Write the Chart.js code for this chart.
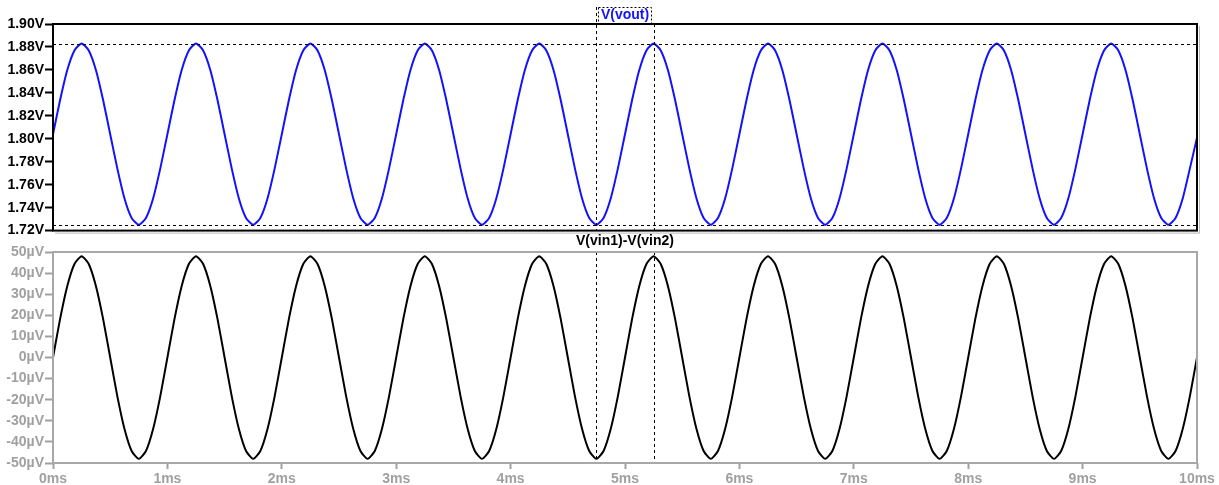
<!DOCTYPE html>
<html>
<head>
<meta charset="utf-8">
<script src="https://cdn.jsdelivr.net/npm/chart.js@4"></script>
<style>
  html, body { margin: 0; padding: 0; background: #fff; }
  #wrap { position: relative; width: 1219px; height: 485px; overflow: hidden; }
  canvas { position: absolute; left: 0; }
  #cTop { top: 0; }
  #cBot { top: 232px; }
</style>
</head>
<body>
<div id="wrap">
  <canvas id="cTop" width="1219" height="240"></canvas>
  <canvas id="cBot" width="1219" height="253"></canvas>
</div>
<script>
  // time axis, ms
  var timeMs = [
    0, 0.0625, 0.125, 0.1875, 0.25, 0.3125, 0.375, 0.4375, 0.5, 0.5625, 0.625, 0.6875, 0.75, 0.8125, 0.875, 0.9375,
    1, 1.0625, 1.125, 1.1875, 1.25, 1.3125, 1.375, 1.4375, 1.5, 1.5625, 1.625, 1.6875, 1.75, 1.8125, 1.875, 1.9375,
    2, 2.0625, 2.125, 2.1875, 2.25, 2.3125, 2.375, 2.4375, 2.5, 2.5625, 2.625, 2.6875, 2.75, 2.8125, 2.875, 2.9375,
    3, 3.0625, 3.125, 3.1875, 3.25, 3.3125, 3.375, 3.4375, 3.5, 3.5625, 3.625, 3.6875, 3.75, 3.8125, 3.875, 3.9375,
    4, 4.0625, 4.125, 4.1875, 4.25, 4.3125, 4.375, 4.4375, 4.5, 4.5625, 4.625, 4.6875, 4.75, 4.8125, 4.875, 4.9375,
    5, 5.0625, 5.125, 5.1875, 5.25, 5.3125, 5.375, 5.4375, 5.5, 5.5625, 5.625, 5.6875, 5.75, 5.8125, 5.875, 5.9375,
    6, 6.0625, 6.125, 6.1875, 6.25, 6.3125, 6.375, 6.4375, 6.5, 6.5625, 6.625, 6.6875, 6.75, 6.8125, 6.875, 6.9375,
    7, 7.0625, 7.125, 7.1875, 7.25, 7.3125, 7.375, 7.4375, 7.5, 7.5625, 7.625, 7.6875, 7.75, 7.8125, 7.875, 7.9375,
    8, 8.0625, 8.125, 8.1875, 8.25, 8.3125, 8.375, 8.4375, 8.5, 8.5625, 8.625, 8.6875, 8.75, 8.8125, 8.875, 8.9375,
    9, 9.0625, 9.125, 9.1875, 9.25, 9.3125, 9.375, 9.4375, 9.5, 9.5625, 9.625, 9.6875, 9.75, 9.8125, 9.875, 9.9375,
    10
  ];

  // V(vout), volts
  var voutV = [
    1.804, 1.834, 1.860, 1.877, 1.883, 1.877, 1.860, 1.834, 1.804, 1.774, 1.748, 1.731, 1.725, 1.731, 1.748, 1.774,
    1.804, 1.834, 1.860, 1.877, 1.883, 1.877, 1.860, 1.834, 1.804, 1.774, 1.748, 1.731, 1.725, 1.731, 1.748, 1.774,
    1.804, 1.834, 1.860, 1.877, 1.883, 1.877, 1.860, 1.834, 1.804, 1.774, 1.748, 1.731, 1.725, 1.731, 1.748, 1.774,
    1.804, 1.834, 1.860, 1.877, 1.883, 1.877, 1.860, 1.834, 1.804, 1.774, 1.748, 1.731, 1.725, 1.731, 1.748, 1.774,
    1.804, 1.834, 1.860, 1.877, 1.883, 1.877, 1.860, 1.834, 1.804, 1.774, 1.748, 1.731, 1.725, 1.731, 1.748, 1.774,
    1.804, 1.834, 1.860, 1.877, 1.883, 1.877, 1.860, 1.834, 1.804, 1.774, 1.748, 1.731, 1.725, 1.731, 1.748, 1.774,
    1.804, 1.834, 1.860, 1.877, 1.883, 1.877, 1.860, 1.834, 1.804, 1.774, 1.748, 1.731, 1.725, 1.731, 1.748, 1.774,
    1.804, 1.834, 1.860, 1.877, 1.883, 1.877, 1.860, 1.834, 1.804, 1.774, 1.748, 1.731, 1.725, 1.731, 1.748, 1.774,
    1.804, 1.834, 1.860, 1.877, 1.883, 1.877, 1.860, 1.834, 1.804, 1.774, 1.748, 1.731, 1.725, 1.731, 1.748, 1.774,
    1.804, 1.834, 1.860, 1.877, 1.883, 1.877, 1.860, 1.834, 1.804, 1.774, 1.748, 1.731, 1.725, 1.731, 1.748, 1.774,
    1.801
  ];

  // V(vin1)-V(vin2), microvolts
  var vdiffUv = [
    0, 18.4, 33.9, 44.3, 48, 44.3, 33.9, 18.4, 0, -18.4, -33.9, -44.3, -48, -44.3, -33.9, -18.4,
    0, 18.4, 33.9, 44.3, 48, 44.3, 33.9, 18.4, 0, -18.4, -33.9, -44.3, -48, -44.3, -33.9, -18.4,
    0, 18.4, 33.9, 44.3, 48, 44.3, 33.9, 18.4, 0, -18.4, -33.9, -44.3, -48, -44.3, -33.9, -18.4,
    0, 18.4, 33.9, 44.3, 48, 44.3, 33.9, 18.4, 0, -18.4, -33.9, -44.3, -48, -44.3, -33.9, -18.4,
    0, 18.4, 33.9, 44.3, 48, 44.3, 33.9, 18.4, 0, -18.4, -33.9, -44.3, -48, -44.3, -33.9, -18.4,
    0, 18.4, 33.9, 44.3, 48, 44.3, 33.9, 18.4, 0, -18.4, -33.9, -44.3, -48, -44.3, -33.9, -18.4,
    0, 18.4, 33.9, 44.3, 48, 44.3, 33.9, 18.4, 0, -18.4, -33.9, -44.3, -48, -44.3, -33.9, -18.4,
    0, 18.4, 33.9, 44.3, 48, 44.3, 33.9, 18.4, 0, -18.4, -33.9, -44.3, -48, -44.3, -33.9, -18.4,
    0, 18.4, 33.9, 44.3, 48, 44.3, 33.9, 18.4, 0, -18.4, -33.9, -44.3, -48, -44.3, -33.9, -18.4,
    0, 18.4, 33.9, 44.3, 48, 44.3, 33.9, 18.4, 0, -18.4, -33.9, -44.3, -48, -44.3, -33.9, -18.4,
    0
  ];

  var cursorMs = [4.75, 5.25];
  var cursorLevelsV = [1.883, 1.725];

  var FONT = { family: "'Liberation Sans', Arial, sans-serif", weight: 'bold', size: 14 };
  var GRAY = '#a0a0a0';

  function points(ys) {
    return timeMs.map(function (t, i) { return { x: t, y: ys[i] }; });
  }

  // borders, cursors and pane titles
  var paneDecor = {
    id: 'paneDecor',
    afterDatasetsDraw: function (chart, args, o) {
      var ctx = chart.ctx, a = chart.chartArea;
      var xs = chart.scales.x, ys = chart.scales.y;
      ctx.save();
      ctx.strokeStyle = '#000';
      ctx.lineWidth = 1;
      ctx.setLineDash([3, 3]);
      (o.hLevels || []).forEach(function (v) {
        var y = Math.round(ys.getPixelForValue(v)) + 0.5;
        ctx.beginPath(); ctx.moveTo(a.left, y); ctx.lineTo(a.right, y); ctx.stroke();
      });
      cursorMs.forEach(function (t, i) {
        var x = Math.round(xs.getPixelForValue(t)) + 0.5;
        var top = (o.boxed && i === 0) ? 7 : a.top;
        ctx.beginPath(); ctx.moveTo(x, top); ctx.lineTo(x, a.bottom); ctx.stroke();
      });
      ctx.setLineDash([]);

      // frame
      if (o.shadow) {
        ctx.strokeStyle = '#b8b8b8';
        ctx.lineWidth = 1;
        ctx.beginPath();
        ctx.moveTo(a.right + 2.5, a.top + 2); ctx.lineTo(a.right + 2.5, a.bottom + 2.5); ctx.lineTo(a.left + 2, a.bottom + 2.5);
        ctx.stroke();
      }
      ctx.strokeStyle = o.frameColor;
      ctx.lineWidth = 2;
      ctx.strokeRect(a.left, a.top, a.right - a.left, a.bottom - a.top);

      // title
      ctx.font = 'bold 14px ' + FONT.family;
      ctx.fillStyle = o.titleColor;
      ctx.textAlign = 'center';
      ctx.textBaseline = 'middle';
      var cx = (a.left + a.right) / 2;
      ctx.fillText(o.title, cx, o.titleY);
      if (o.boxed) {
        var w = ctx.measureText(o.title).width;
        ctx.strokeStyle = '#000';
        ctx.lineWidth = 1;
        ctx.setLineDash([2, 2]);
        ctx.strokeRect(Math.round(cx - w / 2 - 3) + 0.5, 7.5, Math.round(w + 5), 16);
      }
      ctx.restore();
    }
  };

  new Chart(document.getElementById('cTop'), {
    type: 'line',
    data: {
      datasets: [{
        data: points(voutV),
        borderColor: '#1212ff',
        borderWidth: 2,
        pointRadius: 0,
        tension: 0.2
      }]
    },
    options: {
      responsive: false,
      animation: false,
      layout: { padding: { left: 0, right: 22, top: 24, bottom: 8 } },
      plugins: {
        legend: { display: false },
        tooltip: { enabled: false },
        paneDecor: { frameColor: '#000', shadow: true, hLevels: cursorLevelsV, title: 'V(vout)', titleColor: '#1212ff', titleY: 15, boxed: true }
      },
      scales: {
        x: { type: 'linear', min: 0, max: 10, display: false },
        y: {
          min: 1.72, max: 1.90,
          afterFit: function (s) { s.width = 53; },
          ticks: { stepSize: 0.02, autoSkip: false, padding: 1, color: '#000', font: FONT,
            callback: function (v) { return v.toFixed(2) + 'V'; } },
          grid: { drawOnChartArea: false, tickLength: 8, tickColor: '#000', tickWidth: 2 },
          border: { display: false }
        }
      }
    },
    plugins: [paneDecor]
  });

  new Chart(document.getElementById('cBot'), {
    type: 'line',
    data: {
      datasets: [{
        data: points(vdiffUv),
        borderColor: '#000',
        borderWidth: 2,
        pointRadius: 0,
        tension: 0.2
      }]
    },
    options: {
      responsive: false,
      animation: false,
      layout: { padding: { left: 0, right: 22, top: 20, bottom: 0 } },
      plugins: {
        legend: { display: false },
        tooltip: { enabled: false },
        paneDecor: { frameColor: '#a8a8a8', shadow: false, title: 'V(vin1)-V(vin2)', titleColor: '#000', titleY: 9, boxed: false }
      },
      scales: {
        x: {
          type: 'linear', min: 0, max: 10,
          afterFit: function (s) { s.height = 22; },
          ticks: { stepSize: 1, autoSkip: false, maxRotation: 0, padding: 2, color: GRAY, font: FONT,
            callback: function (v) { return v + 'ms'; } },
          grid: { drawOnChartArea: false, tickLength: 6, tickColor: GRAY, tickWidth: 2 },
          border: { display: false }
        },
        y: {
          min: -50, max: 50,
          afterFit: function (s) { s.width = 53; },
          ticks: { stepSize: 10, autoSkip: false, padding: 1, color: GRAY, font: FONT,
            callback: function (v) { return v + 'µV'; } },
          grid: { drawOnChartArea: false, tickLength: 8, tickColor: GRAY, tickWidth: 2 },
          border: { display: false }
        }
      }
    },
    plugins: [paneDecor]
  });
</script>
</body>
</html>
